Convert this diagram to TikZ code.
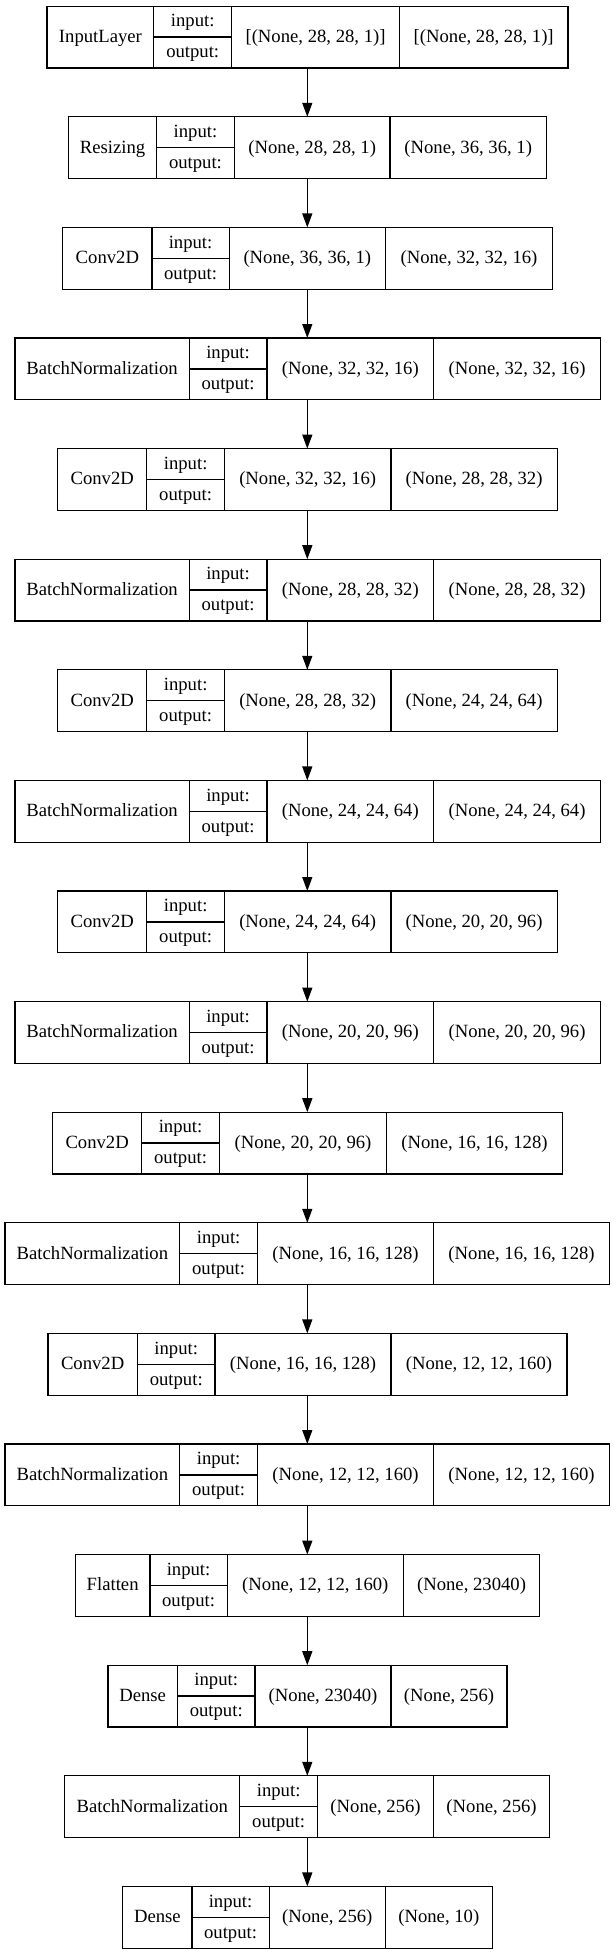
\documentclass[tikz,border=0pt]{standalone}
\usepackage{fontspec}
\setmainfont{Liberation Serif}
\usetikzlibrary{arrows.meta}
\tikzset{
  layerbox/.style={draw=black, line width=1.33pt, inner sep=0pt, outer sep=0pt},
  divider/.style={draw=black, line width=1.33pt},
  txt/.style={inner sep=0pt, anchor=base, font=\fontsize{18.67}{22}\selectfont},
  arr/.style={draw=black, line width=1.33pt, -{Triangle[length=14pt, width=10pt]}}
}
\newcommand\layerrow[9]{%
  \pgfmathsetmacro\ty{6.2+(#1-1)*110.6}%
  \pgfmathsetmacro\by{\ty+61.8}%
  \pgfmathsetmacro\my{\ty+30.9}%
  \pgfmathsetmacro\bw{#6-#2}%
  \node[layerbox, minimum width=\bw pt, minimum height=61.8pt, anchor=north west] (L#1) at (#2,\ty) {};
  \draw[divider] (#3,\ty) -- (#3,\by);
  \draw[divider] (#4,\ty) -- (#4,\by);
  \draw[divider] (#5,\ty) -- (#5,\by);
  \draw[divider] (#3,\my) -- (#4,\my);
  \node[txt] (L#1name) at ({(#2+#3)/2},{\my+5.3}) {#7};
  \node[txt] (L#1in) at ({(#3+#4)/2},{\ty+15.45+5.3}) {input:};
  \node[txt] (L#1out) at ({(#3+#4)/2},{\ty+46.35+5.3}) {output:};
  \node[txt] (L#1a) at ({(#4+#5)/2},{\my+5.3}) {#8};
  \node[txt] (L#1b) at ({(#5+#6)/2},{\my+5.3}) {#9};
}
\begin{document}
\begin{tikzpicture}[x=1pt, y=-1pt]
\useasboundingbox[fill=white] (0,0) rectangle (615,1955);
\coordinate (A) at (307.3,0);
\layerrow{1}{47.1}{153.8}{231.6}{399.5}{567.9}{InputLayer}{[(None, 28, 28, 1)]}{[(None, 28, 28, 1)]}
\layerrow{2}{68.7}{156.6}{234.3}{390.1}{546.3}{Resizing}{(None, 28, 28, 1)}{(None, 36, 36, 1)}
\layerrow{3}{62.8}{151.9}{229.2}{385.4}{552.6}{Conv2D}{(None, 36, 36, 1)}{(None, 32, 32, 16)}
\layerrow{4}{14.9}{189.2}{266.9}{433.7}{600.5}{BatchNormalization}{(None, 32, 32, 16)}{(None, 32, 32, 16)}
\layerrow{5}{57.7}{146.8}{224.5}{390.9}{557.3}{Conv2D}{(None, 32, 32, 16)}{(None, 28, 28, 32)}
\layerrow{6}{14.9}{189.2}{266.9}{433.7}{600.5}{BatchNormalization}{(None, 28, 28, 32)}{(None, 28, 28, 32)}
\layerrow{7}{57.7}{146.8}{224.5}{390.9}{557.3}{Conv2D}{(None, 28, 28, 32)}{(None, 24, 24, 64)}
\layerrow{8}{14.9}{189.2}{266.9}{433.7}{600.5}{BatchNormalization}{(None, 24, 24, 64)}{(None, 24, 24, 64)}
\layerrow{9}{57.7}{146.8}{224.5}{390.9}{557.3}{Conv2D}{(None, 24, 24, 64)}{(None, 20, 20, 96)}
\layerrow{10}{14.9}{189.2}{266.9}{433.7}{600.5}{BatchNormalization}{(None, 20, 20, 96)}{(None, 20, 20, 96)}
\layerrow{11}{52.6}{141.7}{219.4}{386.6}{562.4}{Conv2D}{(None, 20, 20, 96)}{(None, 16, 16, 128)}
\layerrow{12}{5.1}{179.7}{257.5}{433.7}{609.5}{BatchNormalization}{(None, 16, 16, 128)}{(None, 16, 16, 128)}
\layerrow{13}{47.9}{137.4}{215.1}{390.9}{567.1}{Conv2D}{(None, 16, 16, 128)}{(None, 12, 12, 160)}
\layerrow{14}{5.1}{179.7}{257.5}{433.7}{609.5}{BatchNormalization}{(None, 12, 12, 160)}{(None, 12, 12, 160)}
\layerrow{15}{75.4}{149.9}{227.2}{403.5}{539.6}{Flatten}{(None, 12, 12, 160)}{(None, 23040)}
\layerrow{16}{107.9}{177.4}{255.1}{390.9}{507.1}{Dense}{(None, 23040)}{(None, 256)}
\layerrow{17}{64.8}{239.8}{317.5}{433.7}{549.5}{BatchNormalization}{(None, 256)}{(None, 256)}
\layerrow{18}{122.8}{191.9}{269.2}{385.4}{492.2}{Dense}{(None, 256)}{(None, 10)}
\foreach \k in {1,...,17}{
  \pgfmathtruncatemacro\kn{\k+1}
  \draw[arr] (L\k.south -| A) -- (L\kn.north -| A);
}
\end{tikzpicture}
\end{document}
